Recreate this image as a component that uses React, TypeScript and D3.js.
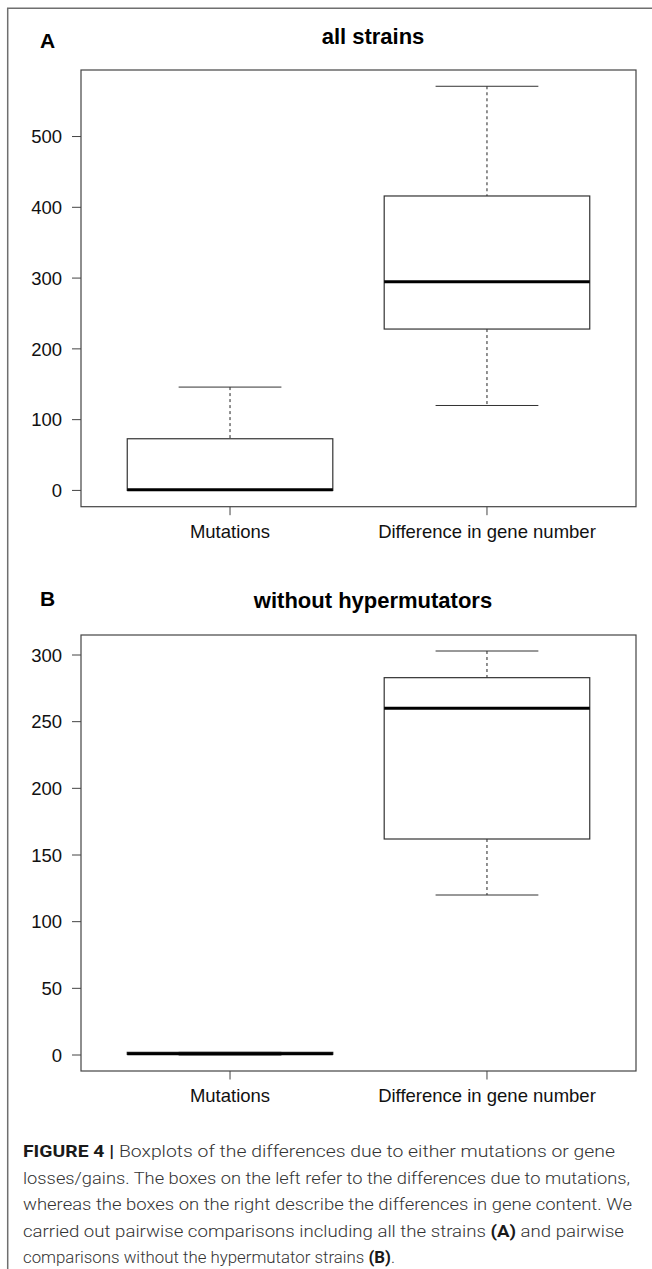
import React, { useEffect, useRef } from 'react';
import * as d3 from 'd3';

// box statistics (min, q1, median, q3, max per group)
const groups = ['Mutations', 'Difference in gene number'];

const allMin = [0, 120];
const allQ1 = [0, 228];
const allMedian = [1, 295];
const allQ3 = [73, 416];
const allMax = [146, 571];

const noHypMin = [0, 120];
const noHypQ1 = [0.5, 162];
const noHypMedian = [1, 260];
const noHypQ3 = [2, 283];
const noHypMax = [2, 303];

const ticksA = [0, 100, 200, 300, 400, 500];
const ticksB = [0, 50, 100, 150, 200, 250, 300];

const captionLines = [
  [['FIGURE 4 | ', true], ['Boxplots of the differences due to either mutations or gene', false]],
  [['losses/gains. The boxes on the left refer to the differences due to mutations,', false]],
  [['whereas the boxes on the right describe the differences in gene content. We', false]],
  [['carried out pairwise comparisons including all the strains ', false], ['(A)', true], [' and pairwise', false]],
  [['comparisons without the hypermutator strains ', false], ['(B)', true], ['.', false]],
];
const captionWidths = [592, 607, 609, 601, 372];

const W = 652;
const H = 1269;

const App = () => {
  const ref = useRef(null);

  useEffect(() => {
    const svg = d3.select(ref.current);
    svg.selectAll('*').remove();

    const axisFont = '"Liberation Sans", Arial, sans-serif';
    const frame = '#444';

    // outer border (top and left only, the rest is cropped)
    svg.append('path')
      .attr('d', `M7.7,${H} V8.3 H${W}`)
      .attr('fill', 'none')
      .attr('stroke', '#6f6f6f')
      .attr('stroke-width', 1.5);

    const x = d3.scaleLinear().domain([0.42, 2.58]).range([81, 636]);

    const drawPanel = (opts) => {
      const { letter, letterY, title, titleY, top, bottom, domain, ticks, mins, q1, med, q3, maxs } = opts;
      const y = d3.scaleLinear().domain(domain).range([bottom, top]);
      const g = svg.append('g');

      g.append('text')
        .attr('x', 40)
        .attr('y', letterY)
        .style('font-family', axisFont)
        .style('font-weight', 'bold')
        .style('font-size', '21px')
        .text(letter);

      g.append('text')
        .attr('x', 373)
        .attr('y', titleY)
        .attr('text-anchor', 'middle')
        .style('font-family', axisFont)
        .style('font-weight', 'bold')
        .style('font-size', '22px')
        .text(title);

      // y axis ticks
      ticks.forEach(t => {
        g.append('line')
          .attr('x1', 72).attr('x2', 81)
          .attr('y1', y(t)).attr('y2', y(t))
          .attr('stroke', frame).attr('stroke-width', 1);
        g.append('text')
          .attr('x', 62)
          .attr('y', y(t))
          .attr('dy', '0.36em')
          .attr('text-anchor', 'end')
          .style('font-family', axisFont)
          .style('font-size', '18.5px')
          .style('fill', '#111')
          .text(t);
      });

      // x axis ticks, labels and the boxes
      groups.forEach((name, i) => {
        const cx = x(i + 1);
        g.append('line')
          .attr('x1', cx).attr('x2', cx)
          .attr('y1', bottom).attr('y2', bottom + 8.5)
          .attr('stroke', frame).attr('stroke-width', 1);
        g.append('text')
          .attr('x', cx)
          .attr('y', bottom + 31)
          .attr('text-anchor', 'middle')
          .style('font-family', axisFont)
          .style('font-size', '18.5px')
          .style('fill', '#111')
          .text(name);

        const half = x(1.4) - x(1);
        const capHalf = half / 2;

        // whiskers
        g.append('line')
          .attr('x1', cx).attr('x2', cx)
          .attr('y1', y(maxs[i])).attr('y2', y(q3[i]))
          .attr('stroke', '#222').attr('stroke-dasharray', '3,3');
        g.append('line')
          .attr('x1', cx).attr('x2', cx)
          .attr('y1', y(q1[i])).attr('y2', y(mins[i]))
          .attr('stroke', '#222').attr('stroke-dasharray', '3,3');
        [maxs[i], mins[i]].forEach(v => {
          g.append('line')
            .attr('x1', cx - capHalf).attr('x2', cx + capHalf)
            .attr('y1', y(v)).attr('y2', y(v))
            .attr('stroke', '#333').attr('stroke-width', 1);
        });

        g.append('rect')
          .attr('x', cx - half)
          .attr('width', half * 2)
          .attr('y', y(q3[i]))
          .attr('height', Math.max(0, y(q1[i]) - y(q3[i])))
          .attr('fill', 'none')
          .attr('stroke', '#333')
          .attr('stroke-width', 1.2);

        g.append('line')
          .attr('x1', cx - half).attr('x2', cx + half)
          .attr('y1', y(med[i])).attr('y2', y(med[i]))
          .attr('stroke', '#000').attr('stroke-width', 3);
      });

      // plot frame
      g.append('rect')
        .attr('x', 81)
        .attr('y', top)
        .attr('width', 636 - 81)
        .attr('height', bottom - top)
        .attr('fill', 'none')
        .attr('stroke', frame)
        .attr('stroke-width', 1.2);
    };

    drawPanel({
      letter: 'A', letterY: 48, title: 'all strains', titleY: 44,
      top: 70, bottom: 506.7, domain: [-23, 594], ticks: ticksA,
      mins: allMin, q1: allQ1, med: allMedian, q3: allQ3, maxs: allMax,
    });

    drawPanel({
      letter: 'B', letterY: 606, title: 'without hypermutators', titleY: 608,
      top: 635, bottom: 1071, domain: [-12, 315], ticks: ticksB,
      mins: noHypMin, q1: noHypQ1, med: noHypMedian, q3: noHypQ3, maxs: noHypMax,
    });

    // caption
    const baselines = [1157, 1184, 1210, 1237, 1263];
    captionLines.forEach((parts, i) => {
      const t = svg.append('text')
        .attr('x', 23)
        .attr('y', baselines[i])
        .attr('textLength', captionWidths[i])
        .attr('lengthAdjust', 'spacingAndGlyphs')
        .style('font-family', 'Roboto, "Liberation Sans", sans-serif')
        .style('font-size', '16.5px')
        .style('fill', '#2b2b2b');
      parts.forEach(([s, bold]) => {
        t.append('tspan')
          .style('font-weight', bold ? 'bold' : '300')
          .style('fill', bold ? '#1a1a1a' : '#333')
          .text(s);
      });
    });
  }, []);

  return (
    <svg
      ref={ref}
      width={W}
      height={H}
      style={{ position: 'absolute', left: 0, top: 0, background: '#fff' }}
    />
  );
};

export default App;
